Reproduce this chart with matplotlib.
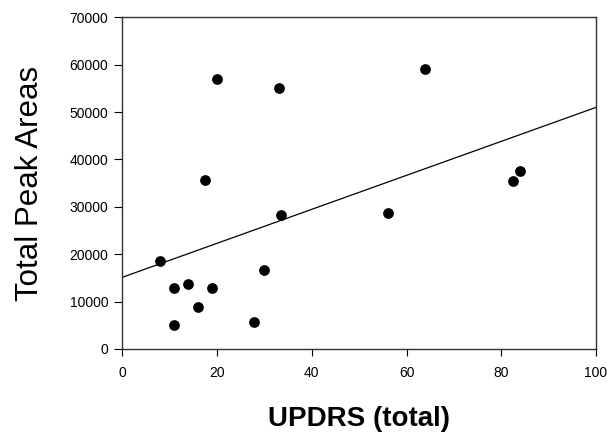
import numpy as np
import matplotlib
matplotlib.use("Agg")
import matplotlib.pyplot as plt

plt.rcParams['font.family'] = ['Liberation Sans', 'DejaVu Sans']

# UPDRS total score vs total peak area
updrs = [20, 33, 17.5, 33.4, 7.9, 29.9, 10.9, 13.9, 18.9, 15.9, 10.9, 27.9,
         64, 84, 82.5, 56]
peak_area = [57000, 55100, 35700, 28300, 18500, 16700, 12800, 13650, 12800,
             8860, 5060, 5630, 59150, 37600, 35500, 28600]
xticks = [0, 20, 40, 60, 80, 100]
yticks = [0, 10000, 20000, 30000, 40000, 50000, 60000, 70000]

fig = plt.figure(figsize=(6.08, 4.34), dpi=100)
ax = fig.add_axes([0.2012, 0.1959, 0.7791, 0.7642])

ax.plot(updrs, peak_area, 'o', color='black', markersize=6.7, zorder=3)

# linear regression line across the axis range
slope, icept = np.polyfit(updrs, peak_area, 1)
xs = np.array([0, 100])
ax.plot(xs, slope * xs + icept, color='black', lw=0.9)

ax.set_xlim(0, 100)
ax.set_ylim(0, 70000)
ax.set_xticks(xticks)
ax.set_yticks(yticks)
ax.tick_params(axis='x', direction='out', length=5, pad=7, labelsize=10)
ax.tick_params(axis='y', direction='out', length=6, pad=4, labelsize=10)
for s in ax.spines.values():
    s.set_color('#333333')
    s.set_linewidth(1)

ax.set_xlabel('UPDRS (total)', fontsize=20, fontweight='bold', labelpad=19)
ax.set_ylabel('Total Peak Areas', fontsize=22.5, labelpad=18)

fig.savefig('out.png', dpi=100)
